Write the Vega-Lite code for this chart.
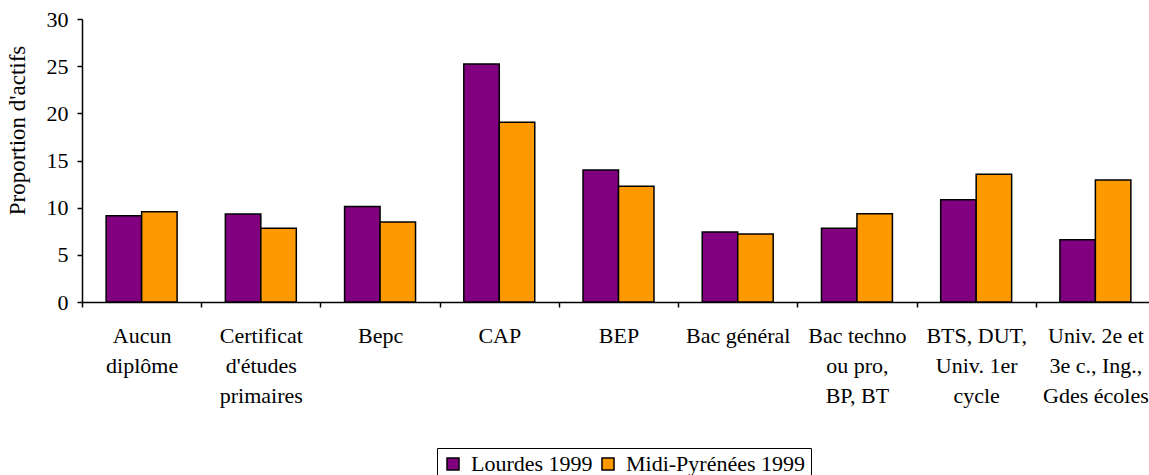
{
  "$schema": "https://vega.github.io/schema/vega-lite/v6.json",
  "autosize": "none",
  "width": 1067,
  "height": 283,
  "padding": {"left": 82, "top": 19, "right": 0, "bottom": 173},
  "background": "white",
  "data": {
    "values": [
      {"cat": "Aucun|diplôme", "series": "Lourdes 1999", "value": 9.14},
      {"cat": "Aucun|diplôme", "series": "Midi-Pyrénées 1999", "value": 9.56},
      {"cat": "Certificat|d'études|primaires", "series": "Lourdes 1999", "value": 9.32},
      {"cat": "Certificat|d'études|primaires", "series": "Midi-Pyrénées 1999", "value": 7.83},
      {"cat": "Bepc", "series": "Lourdes 1999", "value": 10.12},
      {"cat": "Bepc", "series": "Midi-Pyrénées 1999", "value": 8.47},
      {"cat": "CAP", "series": "Lourdes 1999", "value": 25.23},
      {"cat": "CAP", "series": "Midi-Pyrénées 1999", "value": 19.06},
      {"cat": "BEP", "series": "Lourdes 1999", "value": 13.98},
      {"cat": "BEP", "series": "Midi-Pyrénées 1999", "value": 12.28},
      {"cat": "Bac général", "series": "Lourdes 1999", "value": 7.41},
      {"cat": "Bac général", "series": "Midi-Pyrénées 1999", "value": 7.2},
      {"cat": "Bac techno|ou pro,|BP, BT", "series": "Lourdes 1999", "value": 7.83},
      {"cat": "Bac techno|ou pro,|BP, BT", "series": "Midi-Pyrénées 1999", "value": 9.35},
      {"cat": "BTS, DUT,|Univ. 1er|cycle", "series": "Lourdes 1999", "value": 10.83},
      {"cat": "BTS, DUT,|Univ. 1er|cycle", "series": "Midi-Pyrénées 1999", "value": 13.55},
      {"cat": "Univ. 2e et|3e c., Ing.,|Gdes écoles", "series": "Lourdes 1999", "value": 6.6},
      {"cat": "Univ. 2e et|3e c., Ing.,|Gdes écoles", "series": "Midi-Pyrénées 1999", "value": 12.92}
    ]
  },
  "mark": {"type": "bar", "stroke": "#000000", "strokeWidth": 1.5},
  "encoding": {
    "x": {
      "field": "cat",
      "type": "nominal",
      "sort": null,
      "scale": {"paddingInner": 0, "paddingOuter": 0, "range": [0, 1073]},
      "axis": {
        "title": null,
        "tickBand": "extent",
        "labelAngle": 0,
        "labelExpr": "split(datum.label, '|')",
        "labelLineHeight": 30,
        "labelPadding": 18,
        "labelFontSize": 22,
        "labelLimit": 0,
        "labelOverlap": false,
        "labelFlush": false,
        "tickSize": 5
      }
    },
    "xOffset": {
      "field": "series",
      "type": "nominal",
      "scale": {"paddingInner": 0, "paddingOuter": 0.68}
    },
    "y": {
      "field": "value",
      "type": "quantitative",
      "scale": {"domain": [0, 30], "nice": false},
      "axis": {
        "title": "Proportion d'actifs",
        "values": [0, 5, 10, 15, 20, 25, 30],
        "grid": false,
        "tickSize": 5,
        "labelPadding": 9,
        "labelFontSize": 22,
        "titleFontSize": 23,
        "titleFontWeight": "normal",
        "titleX": -53,
        "titleY": 111,
        "titleAlign": "center",
        "titleBaseline": "bottom",
        "titleAngle": 270
      }
    },
    "color": {
      "field": "series",
      "type": "nominal",
      "scale": {"domain": ["Lourdes 1999", "Midi-Pyrénées 1999"], "range": ["#800080", "#FF9900"]},
      "legend": {
        "title": null,
        "orient": "none",
        "legendX": 355,
        "legendY": 429,
        "direction": "horizontal",
        "strokeColor": "#000000",
        "padding": 5,
        "symbolType": "square",
        "symbolSize": 144,
        "symbolStrokeColor": "#000000",
        "symbolStrokeWidth": 1.5,
        "symbolOpacity": 1,
        "labelFontSize": 22,
        "labelOffset": 7,
        "columnPadding": 4,
        "labelLimit": 0
      }
    }
  },
  "config": {
    "view": {"stroke": null},
    "font": "Liberation Serif",
    "axis": {
      "domainColor": "#000000",
      "tickColor": "#000000",
      "labelColor": "#000000",
      "titleColor": "#000000",
      "labelFont": "Liberation Serif",
      "titleFont": "Liberation Serif",
      "domainWidth": 1.5,
      "tickWidth": 1.5
    },
    "legend": {"labelFont": "Liberation Serif", "labelColor": "#000000"}
  }
}
